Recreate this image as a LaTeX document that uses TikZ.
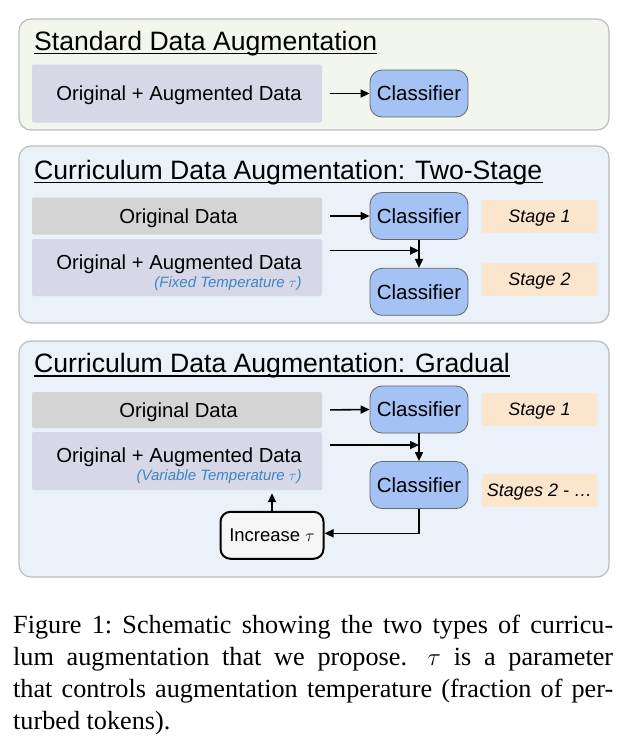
\documentclass[tikz,border=0pt]{standalone}
\usepackage{fontspec}
\setmainfont{Liberation Sans}
\newfontfamily\capfont{Liberation Serif}
\usetikzlibrary{arrows.meta,positioning,calc}

\definecolor{panelgreen}{HTML}{F3F6EE}
\definecolor{panelblue}{HTML}{EAF1F9}
\definecolor{panelline}{HTML}{BDBDBD}
\definecolor{datagray}{HTML}{D4D4D4}
\definecolor{datapurple}{HTML}{D6D7E7}
\definecolor{clsblue}{HTML}{A4C2F4}
\definecolor{stagepeach}{HTML}{FCE5CD}
\definecolor{tempblue}{HTML}{3D85C6}
\newcommand{\tempnote}[1]{{\color{tempblue}\itshape\fontsize{15}{17}\selectfont #1}}

\begin{document}
\begin{tikzpicture}[
    x=1pt, y=-1pt,
    panel/.style={rectangle, rounded corners=12pt, draw=panelline, line width=1.2pt, minimum width=590pt},
    title/.style={anchor=base west, inner sep=0pt, font=\fontsize{26.6}{30}\selectfont},
    titleline/.style={line width=1.3pt},
    databox/.style={rectangle, rounded corners=2pt, minimum width=290pt, text depth=0pt, align=right, font=\fontsize{20.3}{22}\selectfont},
    clf/.style={rectangle, rounded corners=12pt, draw=black!60, line width=0.8pt, fill=clsblue, minimum width=98pt, minimum height=47pt, font=\fontsize{20.5}{22}\selectfont},
    stagebox/.style={rectangle, fill=stagepeach, minimum width=115pt, minimum height=33pt, text depth=0pt, font=\itshape\fontsize{18}{20}\selectfont},
    incbox/.style={rectangle, rounded corners=10pt, draw=black, line width=2pt, fill=black!4, minimum width=103pt, minimum height=47pt, font=\fontsize{18.5}{20}\selectfont},
    arrow/.style={-{Triangle[length=9pt,width=8pt]}, line width=1.6pt}
]
\useasboundingbox (0,0) rectangle (637,747);

% standard augmentation
\node[panel, fill=panelgreen, minimum height=111pt] (std) at (314,74.5) {};
\node[title] (stdtitle) at (34,50) {Standard Data Augmentation};
\draw[titleline] ([yshift=-3.5pt]stdtitle.base west) -- ([yshift=-3.5pt]stdtitle.base east);
\node[databox, fill=datapurple, minimum height=58pt] (aug1) at (177,93.5) {\hspace*{4pt}Original + Augmented Data};
\node[clf] (clf1) at (419,93.5) {Classifier};
\draw[arrow, shorten <=8pt] (aug1.east) -- (clf1.west);

% two-stage curriculum
\node[panel, fill=panelblue, minimum height=177pt] (two) at (314,234.5) {};
\node[title] (twotitle) at (34,179.3) {Curriculum Data Augmentation: Two-Stage};
\draw[titleline] ([yshift=-3.5pt]twotitle.base west) -- ([yshift=-3.5pt]twotitle.base east);
\node[databox, fill=datagray, minimum height=37pt] (orig2) at (177,216) {\hspace*{3pt}Original Data};
\node[databox, fill=datapurple, minimum height=57pt] (aug2) at (177,267.5)
    {\rule{0pt}{21pt}\hspace*{4pt}Original + Augmented Data\\[-4pt]\tempnote{(Fixed Temperature $\tau$)}};
\node[clf] (clf2a) at (419,216) {Classifier};
\node[clf] (clf2b) at (419,291.8) {Classifier};
\node[stagebox] (stage2a) at (539.5,216) {Stage 1};
\node[stagebox] (stage2b) at (539.5,279.5) {Stage 2};
\coordinate (join2) at ($(clf2a.south)!0.38!(clf2b.north)$);
\draw[arrow, shorten <=8pt] (orig2.east) -- (clf2a.west);
\draw[arrow] (clf2a) -- (clf2b);
\draw[arrow, shorten <=8pt] (aug2.east |- join2) -- (join2);

% gradual curriculum
\node[panel, fill=panelblue, minimum height=236pt] (grad) at (314,459) {};
\node[title] (gradtitle) at (34,372.5) {Curriculum Data Augmentation: Gradual};
\draw[titleline] ([yshift=-3.5pt]gradtitle.base west) -- ([yshift=-3.5pt]gradtitle.base east);
\node[databox, fill=datagray, minimum height=36pt] (orig3) at (177,410) {\hspace*{3pt}Original Data};
\node[databox, fill=datapurple, minimum height=58pt] (aug3) at (177,461)
    {\rule{0pt}{21pt}\hspace*{4pt}Original + Augmented Data\\[-4pt]\tempnote{(Variable Temperature $\tau$)}};
\node[clf] (clf3a) at (419,409.5) {Classifier};
\node[clf] (clf3b) at (419,485) {Classifier};
\node[stagebox] (stage3a) at (539.5,409) {Stage 1};
\node[stagebox] (stage3b) at (539.5,490) {Stages 2 - \ldots};
\node[incbox] (inc3) at (272,535.3) {Increase $\tau$};
\coordinate (join3) at ($(clf3a.south)!0.42!(clf3b.north)$);
\draw[arrow, shorten <=8pt] (orig3.east) -- (clf3a.west);
\draw[arrow] (clf3a) -- (clf3b);
\draw[arrow, shorten <=8pt] (aug3.east |- join3) -- (join3);
\draw[arrow] (clf3b) |- ([yshift=2pt]inc3.east);
\draw[arrow, shorten >=3pt] (inc3) -- (inc3 |- aug3.south);

% caption
\node[anchor=north west, inner sep=0pt, text width=600pt, align=justify,
      font=\capfont\frenchspacing\fontsize{26.2}{32.3}\selectfont] (caption) at (13,614.4)
    {Figure 1: Schematic showing the two types of curricu-\linebreak
     lum augmentation that we propose.\hspace{0.3em} $\tau$ is a parameter\linebreak
     that controls augmentation temperature (fraction of per-\linebreak
     turbed tokens).};
\end{tikzpicture}
\end{document}
